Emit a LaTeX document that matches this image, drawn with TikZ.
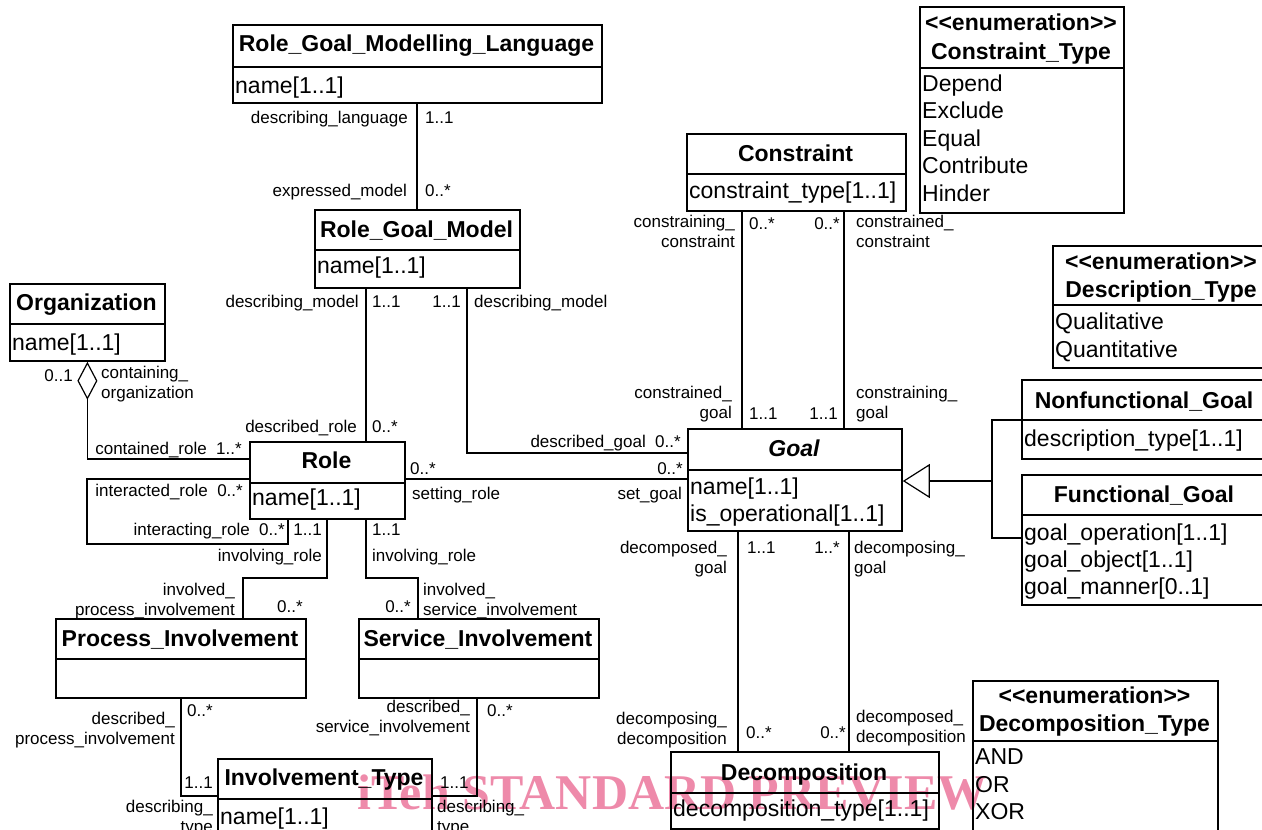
\documentclass[tikz,border=0pt]{standalone}
\usepackage{fontspec}
\setmainfont{Liberation Sans}
\newfontfamily\wmfont{Liberation Serif}
\usetikzlibrary{arrows.meta}

\definecolor{wmpink}{RGB}{238,138,170}

\tikzset{
  cls/.style={draw, line width=1.8pt, anchor=north west, inner sep=0pt},
  clsline/.style={line width=1.8pt},
  ttl/.style={font=\bfseries\fontsize{23}{23}\selectfont, anchor=base, inner sep=0pt},
  att/.style={font=\fontsize{23}{27.5}\selectfont, anchor=base west, inner sep=0pt},
  lab/.style={font=\fontsize{17}{20}\selectfont, inner sep=0pt},
  labl/.style={lab, anchor=base west, align=left},
  labr/.style={lab, anchor=base east, align=right},
  assoc/.style={line width=1.2pt},
}

\begin{document}
\begin{tikzpicture}[x=1pt,y=-1pt]
\useasboundingbox (0,0) rectangle (1262,830);

% watermark (behind the diagram)
\node[font=\wmfont\bfseries\fontsize{50}{50}\selectfont, text=wmpink,
  anchor=base west, inner sep=0pt] (wm) at (357,809) {iTeh STANDARD PREVIEW};

% class boxes: name/x/y/width/height/divider
\foreach \n/\x/\y/\w/\h/\d in {rgml/232/24/369/78/67, rgm/314/209/205/78/250,
    org/9/283/155/77/324, role/249/441/155/77/483, goal/687/428/214/102/470,
    con/686/133/219/77/174, ct/919/6/204/206/68, dt/1052/245/218/122/305,
    nf/1021/379/249/79/420, fg/1021/474/249/130/515, pi/55/618/250/79/659,
    si/358/618/240/79/659, it/217/758/214/90/799, dec/670/751/268/77/793,
    dect/972/680/245/170/741}
{
  \node[cls, minimum width=\w, minimum height=\h] (\n) at (\x,\y) {};
  \draw[clsline] (\x,\d) -- ++(\w,0);
}

% class names
\node[ttl] (rgml-t) at (416.5,51) {Role\_Goal\_Modelling\_Language};
\node[ttl] (rgm-t) at (416.5,237) {Role\_Goal\_Model};
\node[ttl] (org-t) at (86.5,310) {Organization};
\node[ttl] (role-t) at (326.5,468) {Role};
\node[ttl, font=\bfseries\itshape\fontsize{23}{23}\selectfont] (goal-t) at (794,456) {Goal};
\node[ttl] (con-t) at (795.5,161) {Constraint};
\node[ttl] (ct-e) at (1021,30) {<{}<enumeration>{}>};
\node[ttl] (ct-t) at (1021,59) {Constraint\_Type};
\node[ttl] (dt-e) at (1161,269) {<{}<enumeration>{}>};
\node[ttl] (dt-t) at (1161,297) {Description\_Type};
\node[ttl] (nf-t) at (1144,408) {Nonfunctional\_Goal};
\node[ttl] (fg-t) at (1144,502) {Functional\_Goal};
\node[ttl] (pi-t) at (180,646) {Process\_Involvement};
\node[ttl] (si-t) at (478,646) {Service\_Involvement};
\node[ttl] (it-t) at (324,785) {Involvement\_Type};
\node[ttl] (dec-t) at (804,780) {Decomposition};
\node[ttl] (dect-e) at (1094.5,703) {<{}<enumeration>{}>};
\node[ttl] (dect-t) at (1094.5,731) {Decomposition\_Type};

% attributes and literals
\node[att] (rgml-a) at (235,93) {name[1..1]};
\node[att] (rgm-a) at (317,273) {name[1..1]};
\node[att] (org-a) at (12,350) {name[1..1]};
\node[att] (role-a) at (252,505) {name[1..1]};
\node[att] (goal-a1) at (690,494) {name[1..1]};
\node[att] (goal-a2) at (690,521) {is\_operational[1..1]};
\node[att] (con-a) at (689,198) {constraint\_type[1..1]};
\foreach \t [count=\i] in {Depend,Exclude,Equal,Contribute,Hinder}
  \node[att] (ct-\i) at (922,{63.5+27.5*\i}) {\t};
\node[att] (dt-1) at (1055,329) {Qualitative};
\node[att] (dt-2) at (1055,357) {Quantitative};
\node[att] (nf-a) at (1024,446) {description\_type[1..1]};
\node[att] (fg-a1) at (1024,540) {goal\_operation[1..1]};
\node[att] (fg-a2) at (1024,567) {goal\_object[1..1]};
\node[att] (fg-a3) at (1024,594) {goal\_manner[0..1]};
\node[att] (it-a) at (220,824) {name[1..1]};
\node[att] (dec-a) at (673,816) {decomposition\_type[1..1]};
\node[att] (dect-1) at (975,764) {AND};
\node[att] (dect-2) at (975,792) {OR};
\node[att] (dect-3) at (975,819) {XOR};

% associations
\draw[assoc] (417,0 |- rgml.south) -- (417,0 |- rgm.north);
\draw[assoc] (366,0 |- rgm.south) -- (366,0 |- role.north);
\draw[assoc] (467,0 |- rgm.south) |- (goal.west |- 0,453);
\draw[assoc, {Diamond[open, length=38pt, width=20pt]}-] (org.south) |- (role.west |- 0,459);
\draw[assoc] (role.west |- 0,479) -| (87,544) -| (288,0 |- role.south);
\draw[assoc] (327,0 |- role.south) |- (243,578) -- (243,0 |- pi.north);
\draw[assoc] (366,0 |- role.south) |- (418,578) -- (418,0 |- si.north);
\draw[assoc] (role.east |- 0,479) -- (goal.west |- 0,479);
\draw[assoc] (181,0 |- pi.south) |- (it.west |- 0,796);
\draw[assoc] (477,0 |- si.south) |- (it.east |- 0,796);
\draw[assoc] (742,0 |- con.south) -- (742,0 |- goal.north);
\draw[assoc] (844,0 |- con.south) -- (844,0 |- goal.north);
\draw[assoc] (738,0 |- goal.south) -- (738,0 |- dec.north);
\draw[assoc] (849,0 |- goal.south) -- (849,0 |- dec.north);

% generalization
\coordinate (gen) at (992,481);
\draw[assoc, -{Triangle[open, length=27pt, width=34pt]}] (gen) -- (goal.east |- gen);
\draw[assoc] (nf.west |- 0,420) -| (gen);
\draw[assoc] (fg.west |- 0,538) -| (gen);

% role names and multiplicities
\node[labr] (lang-r) at (408,123) {describing\_language};
\node[labl] (lang-m) at (425,123) {1..1};
\node[labr] (expm-r) at (407,196) {expressed\_model};
\node[labl] (expm-m) at (425,196) {0..*};

\node[labr] (dm1-r) at (359,307) {describing\_model};
\node[labl] (dm1-m) at (372,307) {1..1};
\node[labr] (dr-r) at (357,432) {described\_role};
\node[labl] (dr-m) at (372,432) {0..*};
\node[labr] (dm2-m) at (461,307) {1..1};
\node[labl] (dm2-r) at (474,307) {describing\_model};
\node[labr] (dg-r) at (681,447) {described\_goal\ \ 0..*};

\node[labr] (co-m) at (73,381) {0..1};
\node[labl] (co-r) at (101,398) {containing\_\\organization};
\node[labr] (cr-r) at (242,454) {contained\_role\ \ 1..*};
\node[labr] (ir1-r) at (243,496) {interacted\_role\ \ 0..*};
\node[labr] (ir2-r) at (285,535) {interacting\_role\ \ 0..*};

\node[labr] (inv1-m) at (322,535) {1..1};
\node[labr] (inv1-r) at (322,561) {involving\_role};
\node[labl] (inv2-m) at (372,535) {1..1};
\node[labl] (inv2-r) at (372,561) {involving\_role};
\node[labr] (ipi-r) at (235,615) {involved\_\\process\_involvement};
\node[labl] (ipi-m) at (277,612) {0..*};
\node[labr] (isi-m) at (411,612) {0..*};
\node[labl] (isi-r) at (423,615) {involved\_\\service\_involvement};

\node[labl] (sr-m) at (410,474) {0..*};
\node[labl] (sr-r) at (412,499) {setting\_role};
\node[labr] (sg-m) at (683,474) {0..*};
\node[labr] (sg-r) at (682,499) {set\_goal};

\node[labl] (dpi-m) at (187,716) {0..*};
\node[labr] (dpi-r) at (175,744) {described\_\\process\_involvement};
\node[labr] (dt1-m) at (213,788) {1..1};
\node[labr] (dt1-r) at (213,832) {describing\_\\type};
\node[labr] (dsi-r) at (470,732) {described\_\\service\_involvement};
\node[labl] (dsi-m) at (487,716) {0..*};
\node[labl] (dt2-m) at (440,788) {1..1};
\node[labl] (dt2-r) at (437,832) {describing\_\\type};

\node[labr] (cc1-r) at (735,247) {constraining\_\\constraint};
\node[labl] (cc1-m) at (749,229) {0..*};
\node[labr] (cc2-m) at (840,229) {0..*};
\node[labl] (cc2-r) at (856,247) {constrained\_\\constraint};
\node[labr] (cg1-r) at (732,418) {constrained\_\\goal};
\node[labl] (cg1-m) at (749,419) {1..1};
\node[labr] (cg2-m) at (838,419) {1..1};
\node[labl] (cg2-r) at (856,418) {constraining\_\\goal};

\node[labr] (dcg1-r) at (727,573) {decomposed\_\\goal};
\node[labl] (dcg1-m) at (747,553) {1..1};
\node[labr] (dcg2-m) at (840,553) {1..*};
\node[labl] (dcg2-r) at (854,573) {decomposing\_\\goal};
\node[labr] (dd1-r) at (727,744) {decomposing\_\\decomposition};
\node[labl] (dd1-m) at (746,738) {0..*};
\node[labr] (dd2-m) at (846,738) {0..*};
\node[labl] (dd2-r) at (856,742) {decomposed\_\\decomposition};

\end{tikzpicture}
\end{document}
